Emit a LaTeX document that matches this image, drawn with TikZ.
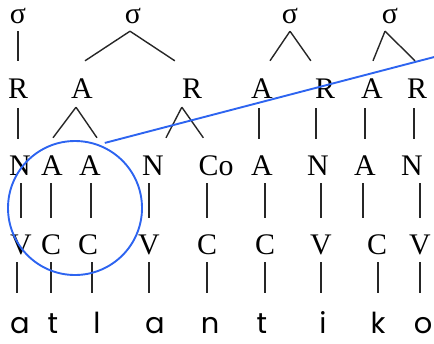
\documentclass[tikz,border=0pt]{standalone}
\usepackage{fontspec}
\setmainfont{Liberation Serif}
\newfontfamily\segfont{Poppins}

\definecolor{hlblue}{RGB}{45,100,240}

\tikzset{
	sym/.style={font=\fontsize{30}{30}\selectfont, inner sep=0pt, anchor=base, text height=20bp, text depth=0pt},
	seg/.style={font=\segfont\fontsize{29}{29}\selectfont, inner sep=0pt, anchor=base, text height=23bp, text depth=0pt},
	link/.style={draw=black!85, line width=1.4bp},
	tierrim/.style={link, shorten <=10bp, shorten >=16bp},
	tiernuc/.style={link, shorten <=8bp, shorten >=16bp},
	tierseg/.style={link, shorten <=8bp, shorten >=17bp},
	focus/.style={draw=hlblue, line width=1.9bp}
}

\begin{document}
\begin{tikzpicture}[x = 1bp, y = -1bp]
	\useasboundingbox (0, 0) rectangle (434, 343);

	% Syllables
	\node[sym] (s1) at (18, 23) {σ};
	\node[sym] (s2) at (133, 23) {σ};
	\node[sym] (s3) at (290, 23) {σ};
	\node[sym] (s4) at (390, 23) {σ};

	% Rimes and appendices
	\node[sym] (r1) at (18, 98) {R};
	\node[sym] (a1) at (82, 98) {A};
	\node[sym] (r2) at (192, 98) {R};
	\node[sym] (a2) at (262, 98) {A};
	\node[sym] (r3) at (325, 98) {R};
	\node[sym] (a3) at (372, 98) {A};
	\node[sym] (r4) at (417, 98) {R};

	% Nuclei, codas
	\node[sym] (n1) at (20, 175) {N};
	\node[sym] (a4) at (52, 175) {A};
	\node[sym] (a5) at (90, 175) {A};
	\node[sym] (n2) at (153, 175) {N};
	\node[sym] (co) at (216, 175) {Co};
	\node[sym] (a6) at (262, 175) {A};
	\node[sym] (n3) at (318, 175) {N};
	\node[sym] (a7) at (365, 175) {A};
	\node[sym] (n4) at (412, 175) {N};

	% Skeleton
	\node[sym] (v1) at (21, 254) {V};
	\node[sym] (c1) at (51, 254) {C};
	\node[sym] (c2) at (88, 254) {C};
	\node[sym] (v2) at (149, 254) {V};
	\node[sym] (c3) at (207, 254) {C};
	\node[sym] (c4) at (265, 254) {C};
	\node[sym] (v3) at (321, 254) {V};
	\node[sym] (c5) at (377, 254) {C};
	\node[sym] (v4) at (420, 254) {V};

	% Segments
	\node[seg] (ph1) at (20, 333) {a};
	\node[seg] (ph2) at (53, 333) {t};
	\node[seg] (ph3) at (97, 333) {l};
	\node[seg] (ph4) at (155, 333) {a};
	\node[seg] (ph5) at (210, 333) {n};
	\node[seg] (ph6) at (262, 333) {t};
	\node[seg] (ph7) at (323, 333) {i};
	\node[seg] (ph8) at (378, 333) {k};
	\node[seg] (ph9) at (423, 333) {o};

	% Syllables to constituents
	\draw[link] ([yshift=-8bp]s1.south) -- ([yshift=17bp]r1.north);
	\draw[link] ([xshift=-3bp, yshift=-8bp]s2.south) -- ([xshift=3bp, yshift=17bp]a1.north);
	\draw[link] ([xshift=-3bp, yshift=-8bp]s2.south) -- ([xshift=-7bp, yshift=17bp]r2.north west);
	\draw[link] ([yshift=-8bp]s3.south) -- ([xshift=-3bp, yshift=17bp]a2.north east);
	\draw[link] ([yshift=-8bp]s3.south) -- ([xshift=-4bp, yshift=17bp]r3.north west);
	\draw[link] ([xshift=-5bp, yshift=-8bp]s4.south) -- ([xshift=1bp, yshift=17bp]a3.north);
	\draw[link] ([xshift=-5bp, yshift=-8bp]s4.south) -- ([xshift=-2bp, yshift=17bp]r4.north);

	% Constituents to nuclei and codas
	\draw[tierrim] (r1.south) -- (r1.south |- n1.north);
	\draw[link] ([xshift=-6bp, yshift=-9bp]a1.south) -- ([xshift=1bp, yshift=17bp]a4.north);
	\draw[link] ([xshift=-6bp, yshift=-9bp]a1.south) -- ([xshift=-4bp, yshift=17bp]a5.north east);
	\draw[link] ([yshift=-9bp]r2.south west) -- ([xshift=2bp, yshift=17bp]n2.north east);
	\draw[link] ([yshift=-9bp]r2.south west) -- ([xshift=5bp, yshift=17bp]co.north west);
	\draw[tierrim] ([xshift=-3bp]a2.south) -- ([xshift=-3bp]a2.south |- a6.north);
	\draw[tierrim] ([xshift=-2bp]n3 |- r3.south) -- ([xshift=-2bp]n3.north);
	\draw[tierrim] (a7 |- a3.south) -- (a7.north);
	\draw[tierrim] ([xshift=2bp]n4 |- r4.south) -- ([xshift=2bp]n4.north);

	% Down to the skeleton
	\draw[tiernuc] (v1 |- n1.south) -- (v1.north);
	\draw[tiernuc] (c1 |- a4.south) -- (c1.north);
	\draw[tiernuc] ([xshift=3bp]c2 |- a5.south) -- ([xshift=3bp]c2.north);
	\draw[tiernuc] (v2 |- n2.south) -- (v2.north);
	\draw[tiernuc] (c3 |- co.south) -- (c3.north);
	\draw[tiernuc] (c4 |- a6.south) -- (c4.north);
	\draw[tiernuc] (v3 |- n3.south) -- (v3.north);
	\draw[tiernuc] ([xshift=-2bp]a7.south) -- ([xshift=-2bp]a7.south |- c5.north);
	\draw[tiernuc] (v4 |- n4.south) -- (v4.north);

	% Skeleton to segments
	\draw[tierseg] ([xshift=-4bp]v1.south) -- ([xshift=-4bp]v1.south |- ph1.north);
	\draw[tierseg] (c1.south) -- (c1.south |- ph2.north);
	\draw[tierseg] ([xshift=4bp]c2.south) -- ([xshift=4bp]c2.south |- ph3.north);
	\draw[tierseg] (v2.south) -- (v2.south |- ph4.north);
	\draw[tierseg] (c3.south) -- (c3.south |- ph5.north);
	\draw[tierseg] (c4.south) -- (c4.south |- ph6.north);
	\draw[tierseg] (v3.south) -- (v3.south |- ph7.north);
	\draw[tierseg] ([xshift=1bp]c5.south) -- ([xshift=1bp]c5.south |- ph8.north);
	\draw[tierseg] (v4.south) -- (v4.south |- ph9.north);

	% Highlight
	\node[focus, circle, inner sep=0pt, minimum size=134bp] (ring) at (75, 208) {};
	\coordinate (tail) at (440, 55.5);
	\draw[focus] ([yshift=4bp]ring.64) -- (tail);
\end{tikzpicture}
\end{document}
